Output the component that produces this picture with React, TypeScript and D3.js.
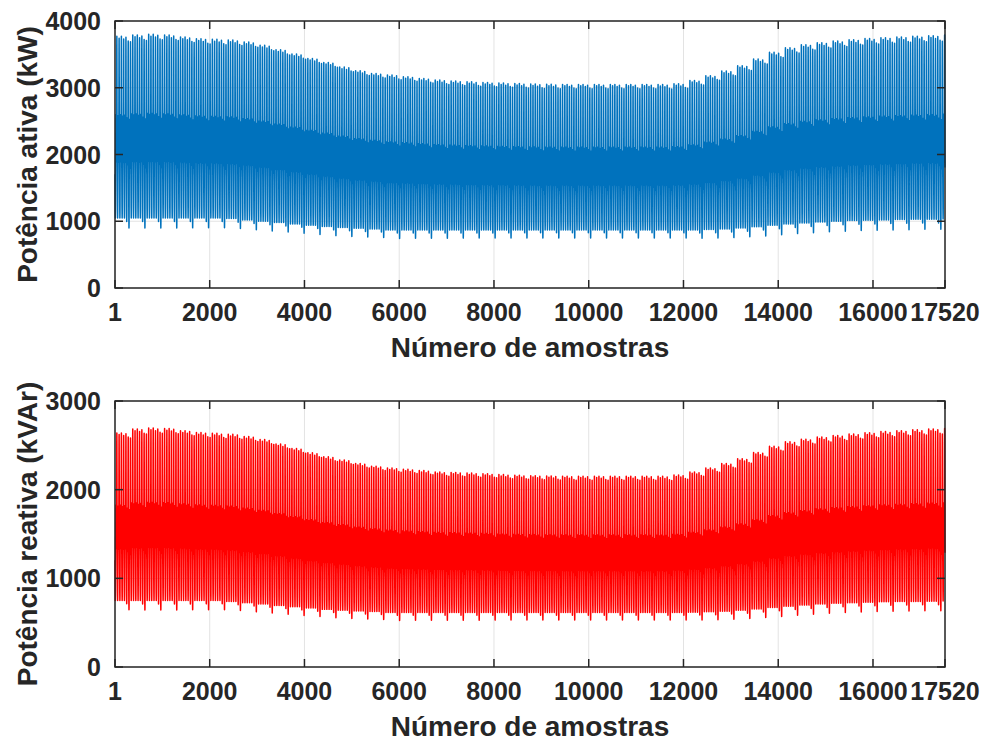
import React, { useMemo } from "react";
import * as d3 from "d3";

// Half-hourly samples: 365 days x 48 = 17520
const SAMPLES_PER_DAY = 48;
const TOTAL_SAMPLES = 17520;

// Normalised daily load shape (0 = night minimum, 1 = evening peak), 48 half-hour slots
const dayProfile = [
  0.24, 0.19, 0.14, 0.1, 0.06, 0.04, 0.02, 0.0, 0.01, 0.03, 0.08, 0.15,
  0.24, 0.31, 0.38, 0.33, 0.47, 0.36, 0.55, 0.4, 0.57, 0.44, 0.53, 0.34,
  0.5, 0.31, 0.46, 0.36, 0.54, 0.39, 0.48, 0.33, 0.52, 0.42, 0.57, 0.66,
  0.78, 0.91, 0.98, 1.0, 0.93, 0.8, 0.66, 0.54, 0.45, 0.38, 0.33, 0.28,
];

// Day-of-week adjustments: peak scale and extra night dip (fraction of daily range)
const weekdayPeakScale = [1.0, 0.99, 1.0, 0.985, 0.995, 0.975, 0.97];
const weekdayNightDip = [0.0, 0.0, 0.0, 0.0, 0.0, 0.02, 0.055];

// Weekly envelopes of active power (kW)
const weeklyPeakP = [
  3770, 3790, 3800, 3790, 3760, 3735, 3725, 3715, 3685, 3635, 3570, 3505, 3440,
  3380, 3310, 3255, 3215, 3190, 3165, 3140, 3115, 3100, 3090, 3080, 3072, 3062,
  3055, 3052, 3050, 3050, 3050, 3050, 3050, 3050, 3048, 3060, 3110, 3180, 3250,
  3330, 3430, 3530, 3600, 3645, 3675, 3700, 3720, 3738, 3750, 3762, 3772, 3780,
  3790,
];
const weeklyMinP = [
  1050, 1050, 1050, 1050, 1050, 1050, 1050, 1040, 1020, 1000, 980, 960, 940,
  920, 905, 895, 885, 870, 870, 870, 870, 870, 870, 870, 870, 870, 870, 870,
  870, 870, 870, 870, 870, 870, 870, 870, 870, 875, 885, 900, 918, 940, 960,
  975, 990, 1000, 1010, 1015, 1020, 1025, 1030, 1030, 1035,
];

// Weekly envelopes of reactive power (kVAr)
const weeklyPeakQ = [
  2640, 2685, 2695, 2690, 2665, 2645, 2635, 2625, 2600, 2565, 2515, 2465, 2415,
  2370, 2335, 2295, 2265, 2245, 2230, 2215, 2200, 2195, 2188, 2180, 2170, 2163,
  2158, 2155, 2152, 2152, 2152, 2152, 2152, 2152, 2150, 2165, 2200, 2245, 2295,
  2350, 2420, 2490, 2540, 2570, 2595, 2612, 2628, 2642, 2655, 2665, 2675, 2685,
  2690,
];
const weeklyMinQ = [
  750, 750, 750, 750, 750, 750, 750, 740, 725, 710, 695, 680, 665, 650, 640,
  632, 625, 615, 615, 615, 615, 615, 615, 615, 615, 615, 615, 615, 615, 615,
  615, 615, 615, 615, 615, 615, 618, 622, 630, 640, 655, 670, 685, 698, 710,
  718, 725, 730, 735, 738, 740, 742, 745,
];

const xTicks = [1, 2000, 4000, 6000, 8000, 10000, 12000, 14000, 16000, 17520];
const yTicksP = [0, 1000, 2000, 3000, 4000];
const yTicksQ = [0, 1000, 2000, 3000];

function buildSeries(peaks: number[], mins: number[]): [number, number][] {
  const out: [number, number][] = [];
  for (let i = 1; i <= TOTAL_SAMPLES; i++) {
    const day = Math.floor((i - 1) / SAMPLES_PER_DAY);
    const slot = (i - 1) % SAMPLES_PER_DAY;
    const week = Math.min(Math.floor(day / 7), peaks.length - 1);
    const dow = day % 7;
    const lo = mins[week];
    const range = (peaks[week] - lo) * weekdayPeakScale[dow];
    const p = dayProfile[slot];
    const v = lo + range * p - weekdayNightDip[dow] * (peaks[week] - lo) * (1 - p) * (1 - p);
    out.push([i, v]);
  }
  return out;
}

const seriesP = buildSeries(weeklyPeakP, weeklyMinP);
const seriesQ = buildSeries(weeklyPeakQ, weeklyMinQ);

const W = 983;
const H = 742;
const left = 115;
const right = 945;
const FONT = "'Liberation Sans', Arial, Helvetica, sans-serif";
const AXIS_COLOR = "#262626";
const GRID_COLOR = "#e3e3e3";
const TICK_FONT = 25;
const LABEL_FONT = 28;

type PanelProps = {
  top: number;
  bottom: number;
  yMax: number;
  yTicks: number[];
  data: [number, number][];
  color: string;
  yLabel: string;
};

function Panel({ top, bottom, yMax, yTicks, data, color, yLabel }: PanelProps) {
  const x = d3.scaleLinear().domain([1, TOTAL_SAMPLES]).range([left, right]);
  const y = d3.scaleLinear().domain([0, yMax]).range([bottom, top]);
  const path = useMemo(
    () =>
      d3
        .line<[number, number]>()
        .x((d) => x(d[0]))
        .y((d) => y(d[1]))(data) || "",
    [data, top, bottom]
  );
  const tickLen = 8;
  return (
    <g>
      {/* grid */}
      {xTicks.map((t) => (
        <line key={"gx" + t} x1={x(t)} x2={x(t)} y1={top} y2={bottom} stroke={GRID_COLOR} strokeWidth={1} />
      ))}
      {yTicks.map((t) => (
        <line key={"gy" + t} x1={left} x2={right} y1={y(t)} y2={y(t)} stroke={GRID_COLOR} strokeWidth={1} />
      ))}
      {/* series */}
      <path d={path} fill="none" stroke={color} strokeWidth={1.5} strokeLinejoin="round" />
      {/* ticks on all four sides, pointing inward */}
      {xTicks.map((t) => (
        <g key={"tx" + t}>
          <line x1={x(t)} x2={x(t)} y1={bottom} y2={bottom - tickLen} stroke={AXIS_COLOR} strokeWidth={1.5} />
          <line x1={x(t)} x2={x(t)} y1={top} y2={top + tickLen} stroke={AXIS_COLOR} strokeWidth={1.5} />
          <text
            x={x(t)}
            y={bottom + 33}
            textAnchor="middle"
            fontFamily={FONT}
            fontWeight="bold"
            fontSize={TICK_FONT}
            fill={AXIS_COLOR}
          >
            {t}
          </text>
        </g>
      ))}
      {yTicks.map((t) => (
        <g key={"ty" + t}>
          <line x1={left} x2={left + tickLen} y1={y(t)} y2={y(t)} stroke={AXIS_COLOR} strokeWidth={1.5} />
          <line x1={right} x2={right - tickLen} y1={y(t)} y2={y(t)} stroke={AXIS_COLOR} strokeWidth={1.5} />
          <text
            x={left - 14}
            y={y(t)}
            dy="0.36em"
            textAnchor="end"
            fontFamily={FONT}
            fontWeight="bold"
            fontSize={TICK_FONT}
            fill={AXIS_COLOR}
          >
            {t}
          </text>
        </g>
      ))}
      {/* axes box */}
      <rect x={left} y={top} width={right - left} height={bottom - top} fill="none" stroke={AXIS_COLOR} strokeWidth={1.5} />
      {/* labels */}
      <text
        x={(left + right) / 2}
        y={bottom + 69}
        textAnchor="middle"
        fontFamily={FONT}
        fontWeight="bold"
        fontSize={LABEL_FONT}
        fill={AXIS_COLOR}
      >
        Número de amostras
      </text>
      <text
        transform={`translate(37,${(top + bottom) / 2}) rotate(-90)`}
        textAnchor="middle"
        fontFamily={FONT}
        fontWeight="bold"
        fontSize={LABEL_FONT}
        fill={AXIS_COLOR}
      >
        {yLabel}
      </text>
    </g>
  );
}

export default function App() {
  return (
    <svg
      width={W}
      height={H}
      viewBox={`0 0 ${W} ${H}`}
      style={{ position: "absolute", left: 0, top: 0, background: "#fff" }}
    >
      <rect width={W} height={H} fill="#fff" />
      <Panel
        top={21}
        bottom={288}
        yMax={4000}
        yTicks={yTicksP}
        data={seriesP}
        color="#0072BD"
        yLabel="Potência ativa (kW)"
      />
      <Panel
        top={401}
        bottom={667}
        yMax={3000}
        yTicks={yTicksQ}
        data={seriesQ}
        color="#FF0000"
        yLabel="Potência reativa (kVAr)"
      />
    </svg>
  );
}
